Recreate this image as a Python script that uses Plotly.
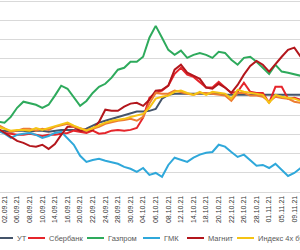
import plotly.graph_objects as go

dates = ["01.09.21", "02.09.21", "03.09.21", "06.09.21", "07.09.21", "08.09.21", "09.09.21", "10.09.21",
         "13.09.21", "14.09.21", "15.09.21", "16.09.21", "17.09.21", "20.09.21", "21.09.21", "22.09.21",
         "23.09.21", "24.09.21", "27.09.21", "28.09.21", "29.09.21", "30.09.21", "01.10.21", "04.10.21",
         "05.10.21", "06.10.21", "07.10.21", "08.10.21", "11.10.21", "12.10.21", "13.10.21", "14.10.21",
         "15.10.21", "18.10.21", "19.10.21", "20.10.21", "21.10.21", "22.10.21", "25.10.21", "26.10.21",
         "27.10.21", "28.10.21", "29.10.21", "01.11.21", "03.11.21", "05.11.21", "08.11.21", "09.11.21",
         "10.11.21"]

ut = [-3.9, -3.9, -4.2, -3.9, -3.9, -4.2, -3.9, -3.9, -4.2, -3.9, -3.7, -3.7, -3.7, -3.9, -3.4, -2.6,
      -1.8, -1.3, -0.8, -0.3, 0.3, 0.8, 1.1, 1.1, 1.3, 1.8, 4.5, 5.5, 5.8, 5.8, 5.8, 5.8,
      5.8, 5.8, 5.8, 5.8, 5.5, 5.5, 5.5, 5.5, 5.5, 5.5, 5.5, 5.5, 5.5, 5.5, 5.5, 5.5, 5.5]
sber = [-3.9, -4.5, -4.7, -5.0, -5.0, -4.7, -5.0, -5.3, -5.0, -5.0, -4.7, -4.5, -3.9, -4.2, -4.5, -3.9,
        -4.7, -4.5, -3.9, -3.7, -3.9, -3.7, -3.2, -0.5, 4.7, 6.0, 6.6, 7.9, 11.0, 12.6, 10.8, 10.2,
        8.9, 7.4, 7.4, 8.9, 7.4, 6.0, 6.3, 8.7, 6.3, 6.0, 6.0, 3.4, 7.6, 7.6, 4.5, 4.7, 4.2]
gazprom = [-1.6, -1.8, -0.3, 2.1, 3.7, 3.2, 2.9, 2.1, 2.9, 5.3, 7.9, 7.1, 5.0, 2.6, 3.9, 6.0,
           7.6, 8.4, 10.0, 12.1, 12.6, 14.2, 14.2, 15.5, 20.5, 23.6, 20.5, 17.3, 16.0, 17.1, 15.2, 16.0,
           16.5, 16.0, 15.2, 16.8, 16.5, 14.7, 13.4, 15.2, 15.5, 14.2, 12.6, 11.0, 13.4, 11.6, 11.3, 11.0, 10.5]
gmk = [-3.9, -4.7, -5.8, -5.0, -4.7, -4.5, -5.0, -5.8, -5.3, -4.5, -4.2, -5.8, -7.6, -10.5, -12.1, -11.6,
       -11.3, -11.8, -12.3, -12.6, -13.4, -13.9, -14.7, -13.7, -15.5, -15.0, -16.0, -12.9, -11.0, -11.6, -12.1, -11.0,
       -10.2, -9.7, -9.5, -7.6, -8.1, -9.5, -10.8, -10.2, -11.6, -13.1, -12.9, -13.7, -12.6, -14.2, -15.8, -15.0, -13.7]
magnit = [-3.4, -4.5, -5.5, -6.6, -7.1, -7.9, -8.1, -7.6, -8.7, -7.4, -5.0, -2.9, -2.9, -3.9, -3.9, -3.7,
          -1.6, 1.6, 1.3, 1.3, 2.4, 3.2, 3.4, 2.6, 4.2, 6.6, 6.8, 7.9, 12.1, 13.4, 11.3, 10.5,
          9.7, 7.4, 7.1, 8.4, 7.4, 6.0, 8.1, 10.8, 13.1, 14.4, 13.4, 11.6, 13.7, 15.5, 17.3, 17.9, 15.5]
index4 = [-2.9, -3.4, -3.9, -3.7, -3.7, -3.9, -3.2, -3.7, -3.2, -2.6, -2.1, -1.8, -2.6, -3.2, -3.9, -3.2,
          -2.4, -1.8, -1.3, -1.1, -0.8, -0.3, 0.0, 0.5, 2.1, 4.5, 5.0, 5.3, 6.3, 6.6, 6.0, 5.5,
          6.3, 5.5, 6.3, 6.0, 5.8, 4.5, 6.8, 6.3, 6.0, 5.8, 5.5, 3.4, 5.5, 5.0, 4.7, 4.5, 3.9]
moex = [-2.4, -3.4, -4.2, -3.9, -3.4, -3.4, -3.9, -3.4, -3.7, -2.9, -2.4, -2.1, -2.9, -3.4, -3.7, -3.4,
        -2.9, -2.1, -1.6, -1.3, -1.1, -0.8, -1.3, -0.3, 3.2, 6.0, 5.8, 5.8, 6.6, 6.3, 5.8, 5.5,
        6.0, 6.0, 5.8, 5.5, 5.3, 3.9, 6.0, 6.0, 5.3, 5.3, 5.0, 3.7, 5.0, 4.7, 4.5, 3.7, 3.4]

names = ["УТ", "Сбербанк", "Газпром", "ГМК", "Магнит", "Индекс 4х бумаг", "Индекс МосБиржи"]
colors = ["#44546A", "#E5252B", "#2EAA5C", "#2FA8DA", "#B3161C", "#F5C314", "#ED7D31"]
series = [ut, sber, gazprom, gmk, magnit, moex, index4]
order_names = [names[0], names[1], names[2], names[3], names[4], names[6], names[5]]
order_colors = [colors[0], colors[1], colors[2], colors[3], colors[4], colors[6], colors[5]]

fig = go.Figure()
for nm, col, ys in zip(order_names, order_colors, series):
    fig.add_trace(go.Scatter(x=dates, y=ys, mode="lines", name=nm,
                             line=dict(color=col, width=2), showlegend=False))

# manual legend (cropped like the reference)
legend_x = [(-4, 13, 15), (28, 45, 47), (87, 104, 106), (143, 160, 162), (187, 204, 206), (237, 254, 256)]
W, PH = 300, 192
ly = (PH - 238) / PH
for (x0, x1, xt), nm, col in zip(legend_x, names[:6], colors[:6]):
    fig.add_shape(type="line", xref="paper", yref="paper", x0=x0 / W, x1=x1 / W, y0=ly, y1=ly,
                  line=dict(color=col, width=2))
    fig.add_annotation(xref="paper", yref="paper", x=xt / W, y=ly, text=nm, showarrow=False,
                       xanchor="left", yanchor="middle",
                       font=dict(size=7.5, color="#595959", family="Liberation Sans, Arial"))

fig.update_layout(
    width=300, height=250,
    margin=dict(l=0, r=0, t=0, b=58),
    paper_bgcolor="white", plot_bgcolor="white",
    showlegend=False,
    font=dict(family="Liberation Sans, Arial", color="#404040"),
)
fig.update_xaxes(type="category", range=[0.286, 47.9], tickmode="array",
                 tickvals=dates[1::2], ticktext=dates[1::2], tickangle=-90,
                 tickfont=dict(size=7, color="#333333"), showgrid=False,
                 showline=True, linecolor="#D9D9D9", linewidth=1, ticks="", zeroline=False)
fig.update_yaxes(range=[-20, 30.39], dtick=5, tick0=0, showgrid=True, gridcolor="#D9D9D9",
                 gridwidth=1, showticklabels=False, zeroline=False, showline=False)

fig.write_html("out.html", config={"displayModeBar": False})
